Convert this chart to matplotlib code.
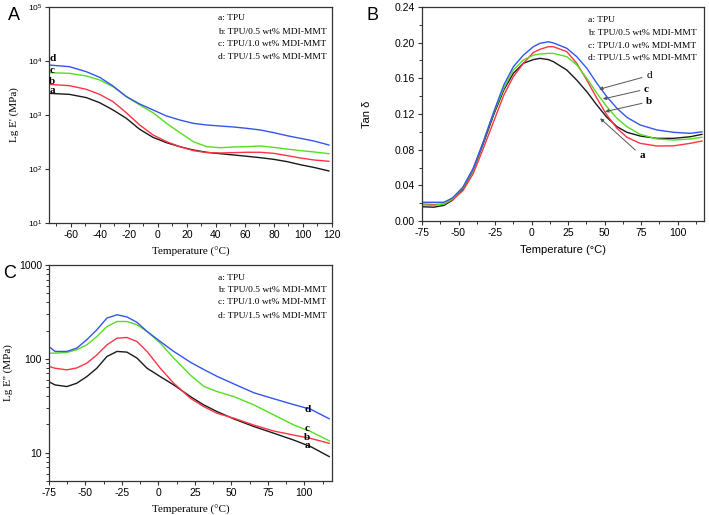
import matplotlib
matplotlib.use('Agg')
import matplotlib.pyplot as plt
from matplotlib.ticker import MultipleLocator, LogLocator, NullLocator, FixedLocator

plt.rcParams['font.family'] = ['Liberation Sans', 'DejaVu Sans']
plt.rcParams['mathtext.fontset'] = 'custom'
plt.rcParams['mathtext.rm'] = 'Liberation Sans'
plt.rcParams['axes.unicode_minus'] = False

SERIF = ['Liberation Serif', 'DejaVu Serif']
COLORS = {'a': '#1a1a1a', 'b': '#ff3344', 'c': '#55dd22', 'd': '#3355ee'}
LEGEND = ['a: TPU', 'b: TPU/0.5 wt% MDI-MMT', 'c: TPU/1.0 wt% MDI-MMT', 'd: TPU/1.5 wt% MDI-MMT']

# ---- panel A: storage modulus E' (MPa) ----
tA = [-75, -60.9, -49.3, -40.1, -30.9, -21.7, -12.5, -3.3, 6.0, 15.2, 24.4,
      33.7, 42.9, 52.1, 61.3, 70.6, 79.8, 89.0, 98.2, 107.5, 117.9]
eA_a = [2520, 2410, 2100, 1690, 1240, 867, 543, 385, 307, 259, 225,
        204, 192, 182, 172, 162, 151, 137, 120, 107, 92]
eA_b = [3700, 3490, 2990, 2410, 1770, 1100, 653, 427, 321, 259, 219,
        201, 198, 201, 204, 204, 195, 177, 160, 147, 139]
eA_c = [6080, 5910, 5280, 4450, 3350, 2190, 1530, 1100, 701, 471, 321,
        259, 248, 256, 259, 267, 252, 234, 219, 207, 192]
eA_d = [8430, 7850, 6340, 4990, 3440, 2190, 1600, 1240, 958, 807, 701,
        653, 625, 600, 566, 528, 471, 414, 370, 330, 278]

# ---- panel B: tan delta ----
tB = [-75, -67, -60, -54, -47, -40, -33, -26, -19, -12.5, -5.6, 1.2, 5.8, 11.5,
      14.9, 24.1, 30.9, 37.8, 44.7, 51.5, 58.4, 65.2, 74.3, 85.8, 97.1, 108.6, 116.6]
tan_a = [0.016, 0.0155, 0.0175, 0.0235, 0.036, 0.057, 0.087, 0.119, 0.147, 0.1656,
         0.1769, 0.181, 0.1824, 0.181, 0.1787, 0.1693, 0.158, 0.145, 0.130, 0.1163,
         0.1058, 0.0995, 0.0953, 0.0927, 0.0927, 0.0945, 0.0972]
tan_b = [0.019, 0.0185, 0.019, 0.024, 0.034, 0.053, 0.0815, 0.1114, 0.1413, 0.1618,
         0.1769, 0.189, 0.1926, 0.1955, 0.1955, 0.1899, 0.1769, 0.158, 0.1376, 0.1189,
         0.104, 0.0939, 0.0871, 0.0841, 0.0843, 0.0871, 0.0897]
tan_c = [0.018, 0.0175, 0.019, 0.025, 0.037, 0.058, 0.089, 0.121, 0.149, 0.1693,
         0.1806, 0.186, 0.1873, 0.188, 0.188, 0.1843, 0.175, 0.160, 0.1432, 0.1282,
         0.1152, 0.1058, 0.0972, 0.092, 0.0908, 0.092, 0.0939]
tan_d = [0.021, 0.021, 0.021, 0.026, 0.038, 0.059, 0.089, 0.122, 0.1525, 0.173,
         0.186, 0.1955, 0.1993, 0.201, 0.1997, 0.1937, 0.1843, 0.1713, 0.1544, 0.1394,
         0.1264, 0.1163, 0.1077, 0.1021, 0.0995, 0.0983, 0.1]

# ---- panel C: loss modulus E'' (MPa) ----
tC = [-75, -70.9, -62.8, -56.0, -49.1, -42.2, -35.3, -28.4, -21.6, -14.7, -7.8,
      1.3, 10.5, 22.0, 31.1, 40.3, 51.8, 65.5, 79.3, 93.0, 104.5, 117.1]
eC_a = [57, 52.8, 50.7, 55, 64.7, 79.5, 106, 120, 118, 102, 79.5,
        64.7, 52.8, 39.6, 32.3, 27.4, 22.9, 19, 16.1, 13.6, 11.6, 9.1]
eC_b = [83, 79.5, 76.4, 80, 90, 110, 141, 166, 169, 153, 120,
        79.5, 55, 38, 31, 26.3, 23.3, 19.7, 17, 15.4, 14.2, 12.6]
eC_c = [115, 115, 117, 125, 141, 173, 221, 250, 250, 231, 196,
        147, 102, 67, 51, 44.8, 39.6, 32.3, 25.2, 19.7, 16.8, 13.4]
eC_d = [135, 120, 120, 130, 160, 204, 272, 295, 280, 245, 196,
        153, 120, 92, 77, 65, 54, 43.5, 37.5, 32.5, 29, 23]

W, H = 709, 515
fig = plt.figure(figsize=(W / 100, H / 100), dpi=100)


def add_axes(l, t, r, b):
    return fig.add_axes([l / W, 1 - b / H, (r - l) / W, (b - t) / H])


def style(ax):
    for s in ax.spines.values():
        s.set_linewidth(0.9)
        s.set_color('#333333')
    ax.tick_params(which='both', direction='out', top=False, right=False,
                   labelsize=7.5, color='#333333', pad=2)
    ax.tick_params(which='major', length=3, width=0.8)
    ax.tick_params(which='minor', length=2, width=0.7)


def legend_text(ax, x, ys):
    for lab, y in zip(LEGEND, ys):
        ax.text(x, y, lab, transform=ax.transAxes, family=SERIF, fontsize=6.8,
                va='center', ha='left')


# Panel A
axA = add_axes(49, 7, 332, 223)
for key, vals in zip('abcd', [eA_a, eA_b, eA_c, eA_d]):
    axA.plot(tA, vals, color=COLORS[key], lw=1.0)
axA.set_yscale('log')
axA.set_xlim(-75, 120)
axA.set_ylim(10, 1e5)
axA.xaxis.set_major_locator(MultipleLocator(20))
axA.xaxis.set_minor_locator(FixedLocator(range(-70, 120, 20)))
axA.yaxis.set_major_locator(LogLocator(base=10, numticks=10))
axA.yaxis.set_minor_locator(NullLocator())
style(axA)
axA.tick_params(axis='y', labelsize=6)
axA.set_xlabel('Temperature (°C)', family=SERIF, fontsize=8, labelpad=5)
axA.set_ylabel("Lg E' (MPa)", family=SERIF, fontsize=8, labelpad=6)
legend_text(axA, 0.597, [0.947, 0.885, 0.828, 0.768])
for lab, y in zip('dcba', [10900, 6540, 4260, 2900]):
    axA.text(-72.7, y, lab, family=SERIF, fontsize=8, fontweight='bold',
             va='center', ha='center')
fig.text(14 / W, 1 - 16 / H, 'A', fontsize=13, ha='center', va='center')

# Panel B
axB = add_axes(422, 7, 704, 221)
for key, vals in zip('abcd', [tan_a, tan_b, tan_c, tan_d]):
    axB.plot(tB, vals, color=COLORS[key], lw=1.0)
axB.set_xlim(-75, 118)
axB.set_ylim(0, 0.24)
axB.xaxis.set_major_locator(MultipleLocator(25))
axB.xaxis.set_minor_locator(MultipleLocator(12.5))
axB.yaxis.set_major_locator(MultipleLocator(0.04))
axB.yaxis.set_minor_locator(MultipleLocator(0.02))
axB.yaxis.set_major_formatter(matplotlib.ticker.FormatStrFormatter('%.2f'))
style(axB)
axB.set_xlabel('Temperature (°C)', fontsize=8, labelpad=5)
axB.set_ylabel('Tan δ', fontsize=8, labelpad=16)
legend_text(axB, 0.589, [0.939, 0.879, 0.819, 0.762])
arrows = [('d', (46.2, 0.1477), (78.4, 0.163)),
          ('c', (48.8, 0.1368), (77.0, 0.148)),
          ('b', (50.3, 0.1226), (78.4, 0.1338)),
          ('a', (46.9, 0.1152), (73.6, 0.0729))]
for lab, xy, xyt in arrows:
    axB.annotate(lab, xy=xy, xytext=xyt, family=SERIF, fontsize=8,
                 fontweight='normal' if lab == 'd' else 'bold',
                 va='center', ha='left',
                 arrowprops=dict(arrowstyle='-|>', color='#555555', lw=0.7,
                                 mutation_scale=5, shrinkA=1, shrinkB=0))
fig.text(372 / W, 1 - 16 / H, 'B', fontsize=13, ha='center', va='center')

# Panel C
axC = add_axes(49, 265, 332, 481)
for key, vals in zip('abcd', [eC_a, eC_b, eC_c, eC_d]):
    axC.plot(tC, vals, color=COLORS[key], lw=1.0)
axC.set_yscale('log')
axC.set_xlim(-75, 119)
axC.set_ylim(5, 1000)
axC.xaxis.set_major_locator(MultipleLocator(25))
axC.xaxis.set_minor_locator(MultipleLocator(12.5))
axC.yaxis.set_major_locator(FixedLocator([10, 100, 1000]))
axC.yaxis.set_major_formatter(matplotlib.ticker.FormatStrFormatter('%d'))
axC.yaxis.set_minor_locator(LogLocator(base=10, subs=range(2, 10), numticks=10))
axC.yaxis.set_minor_formatter(matplotlib.ticker.NullFormatter())
style(axC)
axC.set_xlabel('Temperature (°C)', family=SERIF, fontsize=8, labelpad=5)
axC.set_ylabel("Lg E'' (MPa)", family=SERIF, fontsize=8, labelpad=4)
legend_text(axC, 0.598, [0.94, 0.884, 0.829, 0.764])
for lab, y in zip('dcba', [29.2, 18.2, 14.4, 11.8]):
    axC.text(102, y, lab, family=SERIF, fontsize=8, fontweight='bold',
             va='center', ha='center')
fig.text(10 / W, 1 - 274 / H, 'C', fontsize=13, ha='center', va='center')

fig.savefig('out.png', dpi=100)
